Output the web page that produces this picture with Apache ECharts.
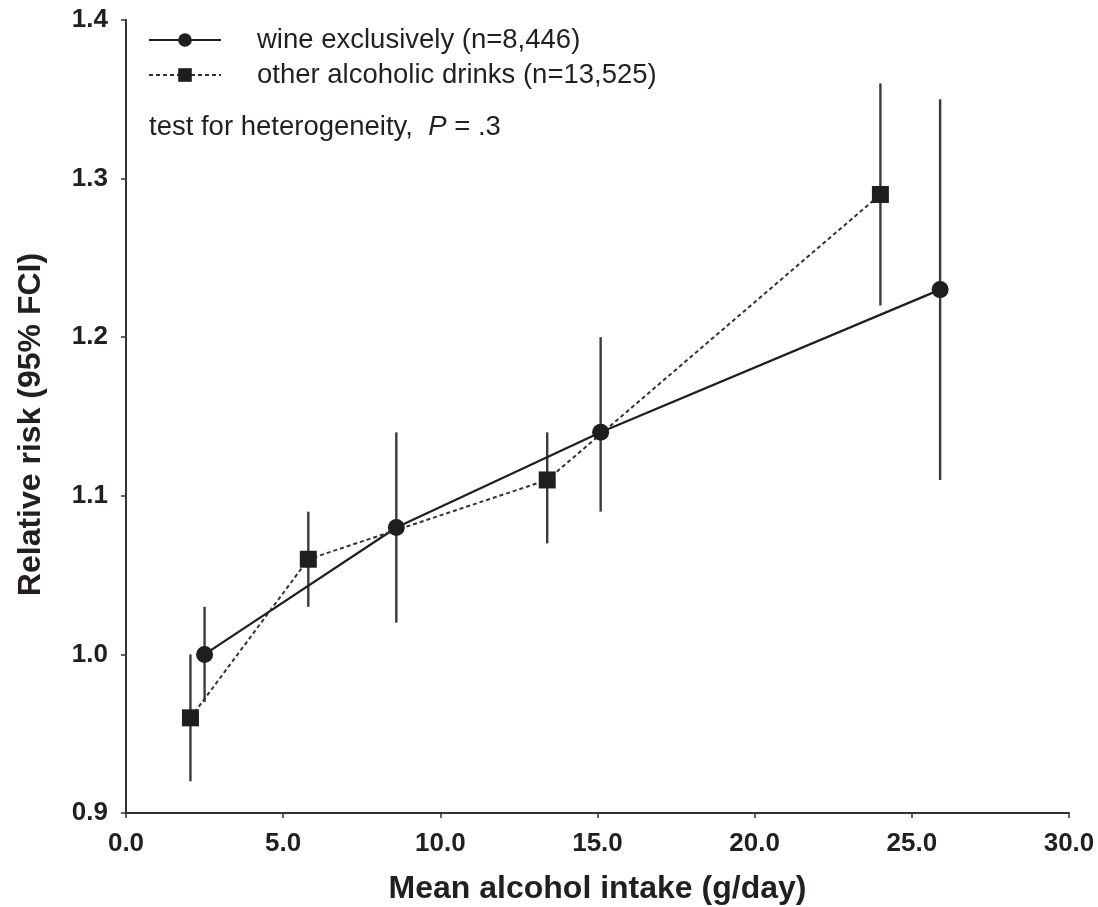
<!DOCTYPE html>
<html>
<head>
<meta charset="utf-8">
<script src="https://cdn.jsdelivr.net/npm/echarts@6/dist/echarts.min.js"></script>
<style>html,body{margin:0;padding:0;background:#fff}#c{width:1098px;height:907px}</style>
</head>
<body>
<div id="c"></div>
<script>
// Data
const wineX   = [2.5, 8.6, 15.1, 25.9];
const wineRR  = [1.00, 1.08, 1.14, 1.23];
const wineLo  = [0.97, 1.02, 1.09, 1.11];
const wineHi  = [1.03, 1.14, 1.20, 1.35];

const otherX  = [2.05, 5.8, 13.4, 24.0];
const otherRR = [0.96, 1.06, 1.11, 1.29];
const otherLo = [0.92, 1.03, 1.07, 1.22];
const otherHi = [1.00, 1.09, 1.14, 1.36];

const wineName  = 'wine exclusively (n=8,446)';
const otherName = 'other alcoholic drinks (n=13,525)';
const xTitle = 'Mean alcohol intake (g/day)';
const yTitle = 'Relative risk (95% FCI)';

const FONT = '"Liberation Sans", Arial, Helvetica, sans-serif';
const INK = '#231f20';

function pts(xs, ys) { return xs.map((x, i) => [x, ys[i]]); }
function bars(xs, lo, hi) { return xs.map((x, i) => [x, lo[i], hi[i]]); }

function errRender(params, api) {
  const p1 = api.coord([api.value(0), api.value(1)]);
  const p2 = api.coord([api.value(0), api.value(2)]);
  return {
    type: 'line',
    shape: { x1: p1[0], y1: p1[1], x2: p2[0], y2: p2[1] },
    style: { stroke: '#3a3a3a', lineWidth: 2.4 }
  };
}

const chart = echarts.init(document.getElementById('c'), null, { renderer: 'canvas' });
chart.setOption({
  animation: false,
  backgroundColor: '#fff',
  textStyle: { fontFamily: FONT, color: INK },
  grid: { left: 126, right: 29, top: 20, bottom: 94, containLabel: false, outerBoundsMode: 'none' },
  title: {
    left: 149, top: 112, padding: 0,
    text: 'test for heterogeneity,  {i|P} = .3',
    textStyle: {
      fontFamily: FONT, fontSize: 27.5, fontWeight: 'normal', color: INK, lineHeight: 30,
      rich: { i: { fontFamily: FONT, fontSize: 27.5, fontStyle: 'italic', color: INK } }
    }
  },
  legend: {
    orient: 'vertical', left: 148, top: 26, padding: 0,
    itemWidth: 72, itemHeight: 17, itemGap: 7,
    data: [wineName, otherName],
    textStyle: { fontFamily: FONT, fontSize: 27.5, color: INK, lineHeight: 28, padding: [0, 0, 0, 31] }
  },
  xAxis: {
    type: 'value', min: 0, max: 30, interval: 5,
    name: xTitle, nameLocation: 'middle', nameGap: 60,
    nameTextStyle: { fontFamily: FONT, fontSize: 32, fontWeight: 'bold', color: INK },
    axisLine: { show: true, lineStyle: { color: '#333', width: 2 } },
    axisTick: { show: true, length: 5, lineStyle: { color: '#333', width: 1.5 } },
    splitLine: { show: false },
    axisLabel: { fontFamily: FONT, fontSize: 26, fontWeight: 'bold', color: INK, margin: 18,
      formatter: v => v.toFixed(1) }
  },
  yAxis: {
    type: 'value', min: 0.9, max: 1.4, interval: 0.1,
    name: yTitle, nameLocation: 'middle', nameGap: 79,
    nameTextStyle: { fontFamily: FONT, fontSize: 32, fontWeight: 'bold', color: INK, padding: [0, 16, 0, 0] },
    axisLine: { show: true, lineStyle: { color: '#333', width: 2 } },
    axisTick: { show: true, length: 5, lineStyle: { color: '#333', width: 1.5 } },
    splitLine: { show: false },
    axisLabel: { fontFamily: FONT, fontSize: 26, fontWeight: 'bold', color: INK, margin: 18,
      formatter: v => v.toFixed(1) }
  },
  series: [
    { type: 'custom', name: 'wineCI', renderItem: errRender, data: bars(wineX, wineLo, wineHi), z: 1, silent: true },
    { type: 'custom', name: 'otherCI', renderItem: errRender, data: bars(otherX, otherLo, otherHi), z: 1, silent: true },
    {
      type: 'line', name: wineName, data: pts(wineX, wineRR), z: 3,
      symbol: 'circle', symbolSize: 17,
      lineStyle: { color: '#1e1e1e', width: 2.2 },
      itemStyle: { color: '#1e1e1e' }
    },
    {
      type: 'line', name: otherName, data: pts(otherX, otherRR), z: 3,
      symbol: 'rect', symbolSize: 17,
      lineStyle: { color: '#333', width: 2, type: [4, 3] },
      itemStyle: { color: '#1e1e1e' }
    }
  ]
});
</script>
</body>
</html>
